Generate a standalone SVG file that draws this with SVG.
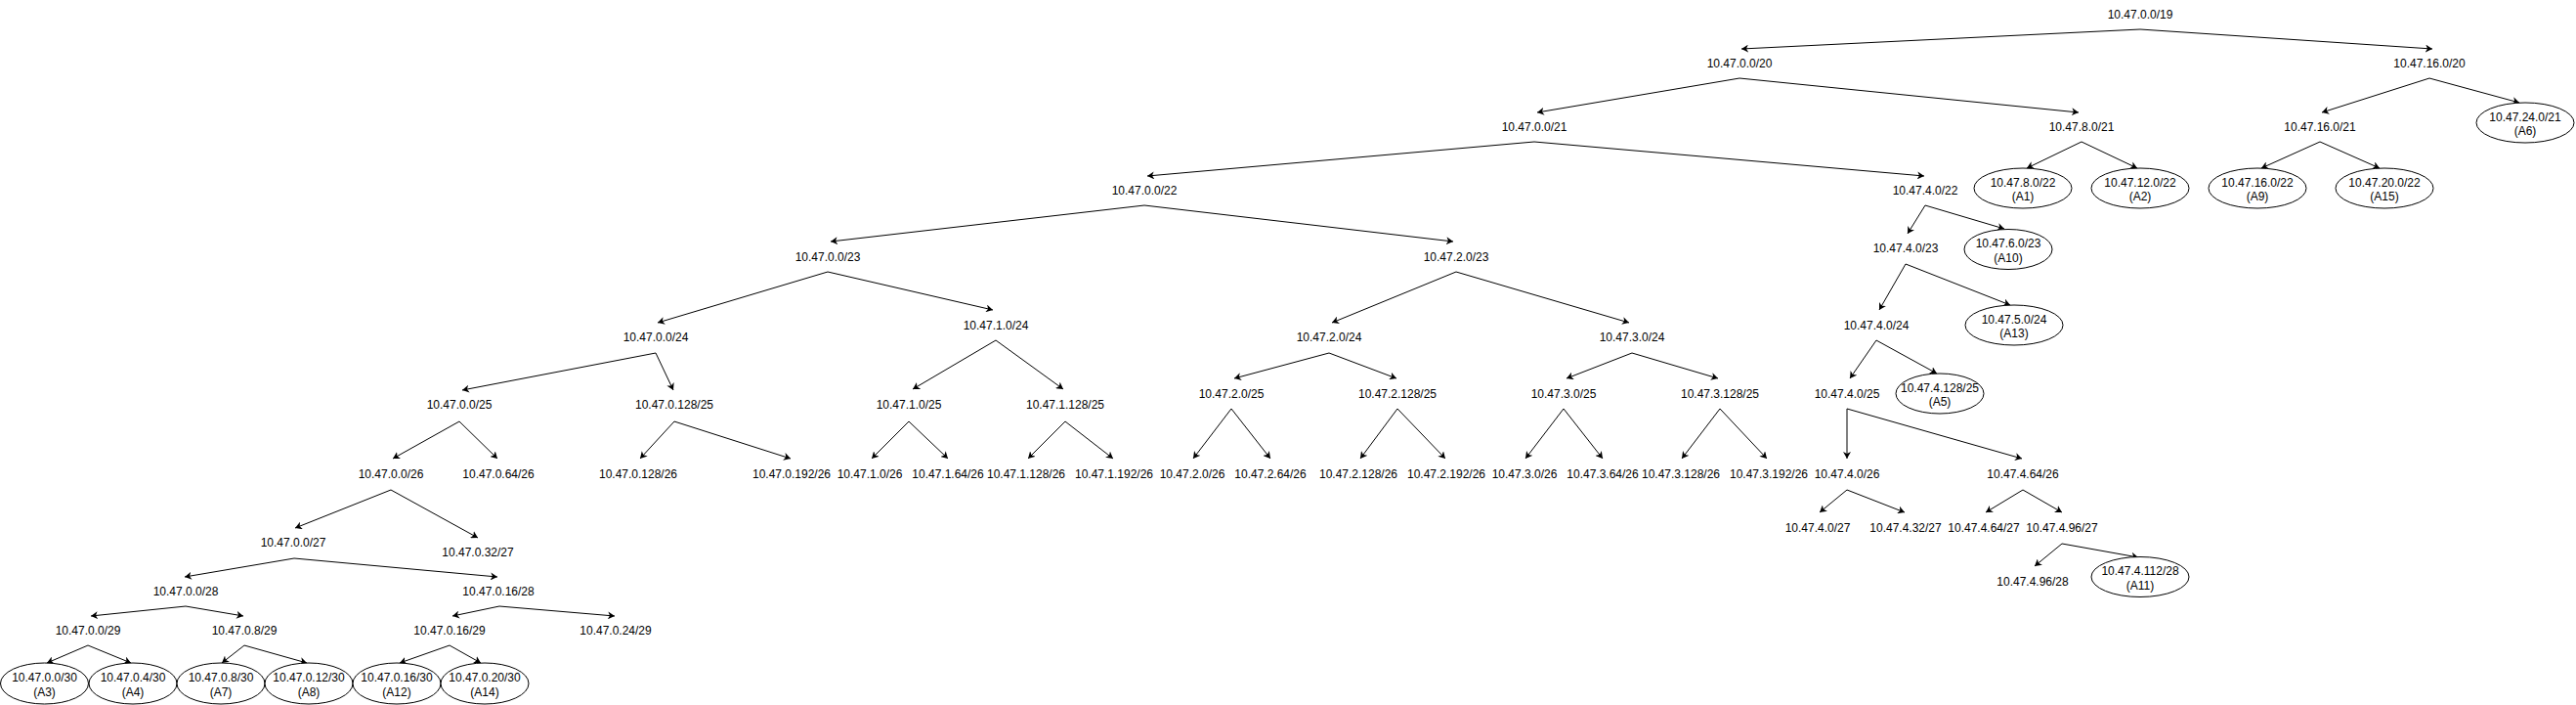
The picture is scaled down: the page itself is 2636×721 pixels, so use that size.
<svg xmlns="http://www.w3.org/2000/svg" width="2636" height="721" viewBox="0 0 2636 721">
<style>
text{font-family:"Liberation Sans",Arial,Helvetica,sans-serif;font-size:12px;fill:#000;text-anchor:middle}
.e{fill:#fff;stroke:#000;stroke-width:1}
.c line{stroke:#000;stroke-width:1;fill:none;marker-end:url(#arr)}
</style>
<defs>
<marker id="arr" viewBox="0 0 7 8" refX="7" refY="4" markerWidth="7" markerHeight="8" markerUnits="userSpaceOnUse" orient="auto">
<path d="M0,0 L7,4 L0,8 L2,4 Z" fill="#000"/>
</marker>
</defs>
<rect width="2636" height="721" fill="#fff"/>
<g id="connectors" class="c">
<line x1="2190" y1="30" x2="1782" y2="50"/>
<line x1="2190" y1="30" x2="2489" y2="50"/>
<line x1="1780" y1="80" x2="1573" y2="115"/>
<line x1="1780" y1="80" x2="2127" y2="115"/>
<line x1="2486" y1="80" x2="2376" y2="115"/>
<line x1="2486" y1="80" x2="2578" y2="105"/>
<line x1="1570" y1="145" x2="1174" y2="180"/>
<line x1="1570" y1="145" x2="1969" y2="180"/>
<line x1="2130" y1="145" x2="2074" y2="172"/>
<line x1="2130" y1="145" x2="2187" y2="172"/>
<line x1="2374" y1="145" x2="2314" y2="172"/>
<line x1="2374" y1="145" x2="2435" y2="172"/>
<line x1="1171" y1="210" x2="850" y2="247"/>
<line x1="1171" y1="210" x2="1487" y2="247"/>
<line x1="1970" y1="210" x2="1952" y2="239"/>
<line x1="1970" y1="210" x2="2051" y2="234"/>
<line x1="847" y1="278" x2="673" y2="330"/>
<line x1="847" y1="278" x2="1016" y2="317"/>
<line x1="1490" y1="278" x2="1363" y2="330"/>
<line x1="1490" y1="278" x2="1667" y2="330"/>
<line x1="1950" y1="270" x2="1923" y2="317"/>
<line x1="1950" y1="270" x2="2057" y2="312"/>
<line x1="671" y1="361" x2="473" y2="399"/>
<line x1="671" y1="361" x2="689" y2="399"/>
<line x1="1019" y1="348" x2="934" y2="398"/>
<line x1="1019" y1="348" x2="1088" y2="398"/>
<line x1="1360" y1="361" x2="1263" y2="387"/>
<line x1="1360" y1="361" x2="1429" y2="387"/>
<line x1="1670" y1="361" x2="1603" y2="387"/>
<line x1="1670" y1="361" x2="1758" y2="387"/>
<line x1="1920" y1="348" x2="1893" y2="387"/>
<line x1="1920" y1="348" x2="1982" y2="382"/>
<line x1="470" y1="431" x2="402" y2="469"/>
<line x1="470" y1="431" x2="509" y2="469"/>
<line x1="690" y1="431" x2="655" y2="469"/>
<line x1="690" y1="431" x2="809" y2="469"/>
<line x1="930" y1="431" x2="892" y2="469"/>
<line x1="930" y1="431" x2="970" y2="469"/>
<line x1="1090" y1="431" x2="1052" y2="469"/>
<line x1="1090" y1="431" x2="1139" y2="469"/>
<line x1="1260" y1="418" x2="1221" y2="469"/>
<line x1="1260" y1="418" x2="1300" y2="469"/>
<line x1="1430" y1="418" x2="1392" y2="469"/>
<line x1="1430" y1="418" x2="1479" y2="469"/>
<line x1="1600" y1="418" x2="1561" y2="469"/>
<line x1="1600" y1="418" x2="1640" y2="469"/>
<line x1="1760" y1="418" x2="1721" y2="469"/>
<line x1="1760" y1="418" x2="1808" y2="469"/>
<line x1="1890" y1="418" x2="1890" y2="469"/>
<line x1="1890" y1="418" x2="2069" y2="469"/>
<line x1="400" y1="501" x2="302" y2="540"/>
<line x1="400" y1="501" x2="489" y2="550"/>
<line x1="1890" y1="501" x2="1862" y2="524"/>
<line x1="1890" y1="501" x2="1949" y2="524"/>
<line x1="2070" y1="501" x2="2032" y2="524"/>
<line x1="2070" y1="501" x2="2110" y2="524"/>
<line x1="301" y1="571" x2="189" y2="590"/>
<line x1="301" y1="571" x2="509" y2="590"/>
<line x1="2110" y1="556" x2="2082" y2="579"/>
<line x1="2110" y1="556" x2="2188" y2="570"/>
<line x1="190" y1="620" x2="93" y2="630"/>
<line x1="190" y1="620" x2="249" y2="630"/>
<line x1="511" y1="620" x2="463" y2="630"/>
<line x1="511" y1="620" x2="629" y2="630"/>
<line x1="90" y1="660" x2="48" y2="678"/>
<line x1="90" y1="660" x2="134" y2="678"/>
<line x1="250" y1="660" x2="227" y2="678"/>
<line x1="250" y1="660" x2="314" y2="678"/>
<line x1="460" y1="660" x2="409" y2="678"/>
<line x1="460" y1="660" x2="492" y2="678"/>
</g>
<g id="n-10.47.0.0-19"><text x="2190" y="19.3">10.47.0.0/19</text></g>
<g id="n-10.47.0.0-20"><text x="1780" y="69.3">10.47.0.0/20</text></g>
<g id="n-10.47.16.0-20"><text x="2486" y="69.3">10.47.16.0/20</text></g>
<g id="n-10.47.0.0-21"><text x="1570" y="134.3">10.47.0.0/21</text></g>
<g id="n-10.47.8.0-21"><text x="2130" y="134.3">10.47.8.0/21</text></g>
<g id="n-10.47.16.0-21"><text x="2374" y="134.3">10.47.16.0/21</text></g>
<g id="n-A6"><ellipse class="e" cx="2584" cy="125.5" rx="50" ry="20.5"/><text x="2584" y="123.5">10.47.24.0/21</text><text x="2584" y="138">(A6)</text></g>
<g id="n-10.47.0.0-22"><text x="1171" y="199.3">10.47.0.0/22</text></g>
<g id="n-10.47.4.0-22"><text x="1970" y="199.3">10.47.4.0/22</text></g>
<g id="n-A1"><ellipse class="e" cx="2070" cy="192.5" rx="50" ry="20.5"/><text x="2070" y="190.5">10.47.8.0/22</text><text x="2070" y="205">(A1)</text></g>
<g id="n-A2"><ellipse class="e" cx="2190" cy="192.5" rx="50" ry="20.5"/><text x="2190" y="190.5">10.47.12.0/22</text><text x="2190" y="205">(A2)</text></g>
<g id="n-A9"><ellipse class="e" cx="2310" cy="192.5" rx="50" ry="20.5"/><text x="2310" y="190.5">10.47.16.0/22</text><text x="2310" y="205">(A9)</text></g>
<g id="n-A15"><ellipse class="e" cx="2440" cy="192.5" rx="50" ry="20.5"/><text x="2440" y="190.5">10.47.20.0/22</text><text x="2440" y="205">(A15)</text></g>
<g id="n-10.47.0.0-23"><text x="847" y="267.3">10.47.0.0/23</text></g>
<g id="n-10.47.2.0-23"><text x="1490" y="267.3">10.47.2.0/23</text></g>
<g id="n-10.47.4.0-23"><text x="1950" y="258.3">10.47.4.0/23</text></g>
<g id="n-A10"><ellipse class="e" cx="2055" cy="255" rx="45" ry="20.5"/><text x="2055" y="253">10.47.6.0/23</text><text x="2055" y="267.5">(A10)</text></g>
<g id="n-10.47.0.0-24"><text x="671" y="349.3">10.47.0.0/24</text></g>
<g id="n-10.47.1.0-24"><text x="1019" y="337.3">10.47.1.0/24</text></g>
<g id="n-10.47.2.0-24"><text x="1360" y="349.3">10.47.2.0/24</text></g>
<g id="n-10.47.3.0-24"><text x="1670" y="349.3">10.47.3.0/24</text></g>
<g id="n-10.47.4.0-24"><text x="1920" y="337.3">10.47.4.0/24</text></g>
<g id="n-A13"><ellipse class="e" cx="2061" cy="332.5" rx="50" ry="20.5"/><text x="2061" y="330.5">10.47.5.0/24</text><text x="2061" y="345">(A13)</text></g>
<g id="n-10.47.0.0-25"><text x="470" y="418.3">10.47.0.0/25</text></g>
<g id="n-10.47.0.128-25"><text x="690" y="418.3">10.47.0.128/25</text></g>
<g id="n-10.47.1.0-25"><text x="930" y="418.3">10.47.1.0/25</text></g>
<g id="n-10.47.1.128-25"><text x="1090" y="418.3">10.47.1.128/25</text></g>
<g id="n-10.47.2.0-25"><text x="1260" y="407.3">10.47.2.0/25</text></g>
<g id="n-10.47.2.128-25"><text x="1430" y="407.3">10.47.2.128/25</text></g>
<g id="n-10.47.3.0-25"><text x="1600" y="407.3">10.47.3.0/25</text></g>
<g id="n-10.47.3.128-25"><text x="1760" y="407.3">10.47.3.128/25</text></g>
<g id="n-10.47.4.0-25"><text x="1890" y="407.3">10.47.4.0/25</text></g>
<g id="n-A5"><ellipse class="e" cx="1985" cy="402.5" rx="45" ry="20.5"/><text x="1985" y="400.5">10.47.4.128/25</text><text x="1985" y="415">(A5)</text></g>
<g id="n-10.47.0.0-26"><text x="400" y="489.3">10.47.0.0/26</text></g>
<g id="n-10.47.0.64-26"><text x="510" y="489.3">10.47.0.64/26</text></g>
<g id="n-10.47.0.128-26"><text x="653" y="489.3">10.47.0.128/26</text></g>
<g id="n-10.47.0.192-26"><text x="810" y="489.3">10.47.0.192/26</text></g>
<g id="n-10.47.1.0-26"><text x="890" y="489.3">10.47.1.0/26</text></g>
<g id="n-10.47.1.64-26"><text x="970" y="489.3">10.47.1.64/26</text></g>
<g id="n-10.47.1.128-26"><text x="1050" y="489.3">10.47.1.128/26</text></g>
<g id="n-10.47.1.192-26"><text x="1140" y="489.3">10.47.1.192/26</text></g>
<g id="n-10.47.2.0-26"><text x="1220" y="489.3">10.47.2.0/26</text></g>
<g id="n-10.47.2.64-26"><text x="1300" y="489.3">10.47.2.64/26</text></g>
<g id="n-10.47.2.128-26"><text x="1390" y="489.3">10.47.2.128/26</text></g>
<g id="n-10.47.2.192-26"><text x="1480" y="489.3">10.47.2.192/26</text></g>
<g id="n-10.47.3.0-26"><text x="1560" y="489.3">10.47.3.0/26</text></g>
<g id="n-10.47.3.64-26"><text x="1640" y="489.3">10.47.3.64/26</text></g>
<g id="n-10.47.3.128-26"><text x="1720" y="489.3">10.47.3.128/26</text></g>
<g id="n-10.47.3.192-26"><text x="1810" y="489.3">10.47.3.192/26</text></g>
<g id="n-10.47.4.0-26"><text x="1890" y="489.3">10.47.4.0/26</text></g>
<g id="n-10.47.4.64-26"><text x="2070" y="489.3">10.47.4.64/26</text></g>
<g id="n-10.47.0.0-27"><text x="300" y="559.3">10.47.0.0/27</text></g>
<g id="n-10.47.0.32-27"><text x="489" y="569.3">10.47.0.32/27</text></g>
<g id="n-10.47.4.0-27"><text x="1860" y="544.3">10.47.4.0/27</text></g>
<g id="n-10.47.4.32-27"><text x="1950" y="544.3">10.47.4.32/27</text></g>
<g id="n-10.47.4.64-27"><text x="2030" y="544.3">10.47.4.64/27</text></g>
<g id="n-10.47.4.96-27"><text x="2110" y="544.3">10.47.4.96/27</text></g>
<g id="n-10.47.0.0-28"><text x="190" y="609.3">10.47.0.0/28</text></g>
<g id="n-10.47.0.16-28"><text x="510" y="609.3">10.47.0.16/28</text></g>
<g id="n-10.47.4.96-28"><text x="2080" y="599.3">10.47.4.96/28</text></g>
<g id="n-A11"><ellipse class="e" cx="2190" cy="590" rx="50" ry="20.5"/><text x="2190" y="588">10.47.4.112/28</text><text x="2190" y="602.5">(A11)</text></g>
<g id="n-10.47.0.0-29"><text x="90" y="649.3">10.47.0.0/29</text></g>
<g id="n-10.47.0.8-29"><text x="250" y="649.3">10.47.0.8/29</text></g>
<g id="n-10.47.0.16-29"><text x="460" y="649.3">10.47.0.16/29</text></g>
<g id="n-10.47.0.24-29"><text x="630" y="649.3">10.47.0.24/29</text></g>
<g id="n-A3"><ellipse class="e" cx="45.5" cy="699" rx="45" ry="21"/><text x="45.5" y="697">10.47.0.0/30</text><text x="45.5" y="711.5">(A3)</text></g>
<g id="n-A4"><ellipse class="e" cx="136" cy="699" rx="45" ry="21"/><text x="136" y="697">10.47.0.4/30</text><text x="136" y="711.5">(A4)</text></g>
<g id="n-A7"><ellipse class="e" cx="226" cy="699" rx="45" ry="21"/><text x="226" y="697">10.47.0.8/30</text><text x="226" y="711.5">(A7)</text></g>
<g id="n-A8"><ellipse class="e" cx="316" cy="699" rx="45" ry="21"/><text x="316" y="697">10.47.0.12/30</text><text x="316" y="711.5">(A8)</text></g>
<g id="n-A12"><ellipse class="e" cx="406" cy="699" rx="45" ry="21"/><text x="406" y="697">10.47.0.16/30</text><text x="406" y="711.5">(A12)</text></g>
<g id="n-A14"><ellipse class="e" cx="496" cy="699" rx="45" ry="21"/><text x="496" y="697">10.47.0.20/30</text><text x="496" y="711.5">(A14)</text></g>
</svg>
